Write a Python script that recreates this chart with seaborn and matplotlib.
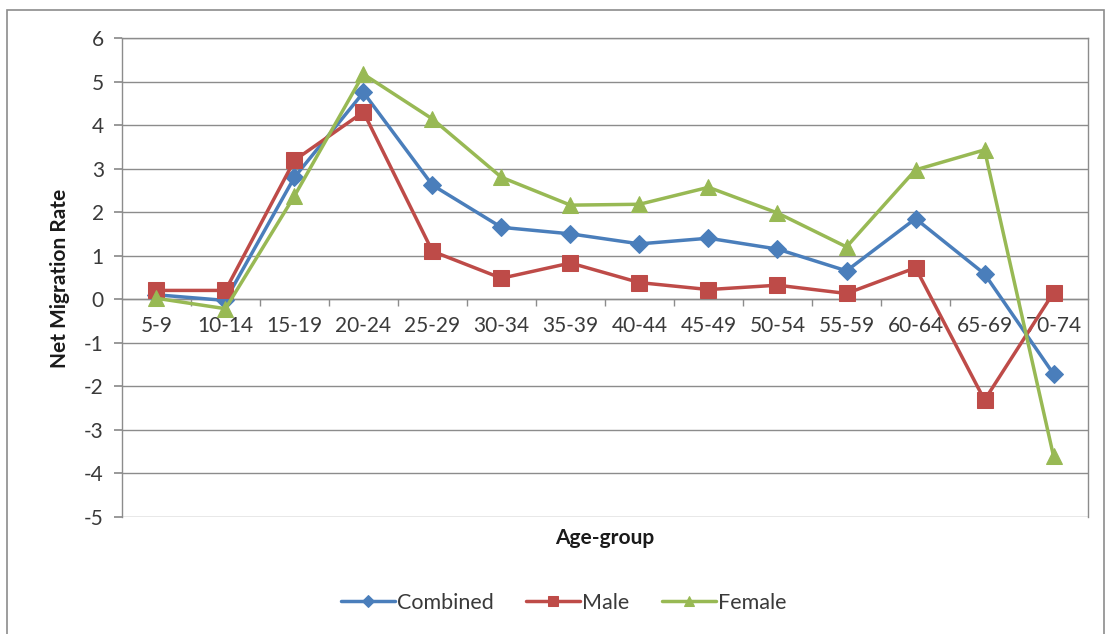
import numpy as np
import pandas as pd
import matplotlib
matplotlib.use("Agg")
import matplotlib.pyplot as plt
import seaborn as sns
from matplotlib.patches import Rectangle
from matplotlib.ticker import FixedLocator

age_groups = ["5-9", "10-14", "15-19", "20-24", "25-29", "30-34", "35-39",
              "40-44", "45-49", "50-54", "55-59", "60-64", "65-69", "70-74"]
combined = [0.10, -0.03, 2.80, 4.75, 2.62, 1.65, 1.50, 1.27, 1.40, 1.15, 0.65, 1.85, 0.58, -1.72]
male = [0.20, 0.20, 3.19, 4.30, 1.10, 0.48, 0.83, 0.38, 0.22, 0.32, 0.13, 0.72, -2.32, 0.15]
female = [0.02, -0.22, 2.37, 5.17, 4.14, 2.80, 2.16, 2.18, 2.57, 1.98, 1.20, 2.97, 3.43, -3.61]

series_names = ["Combined", "Male", "Female"]
series_values = [combined, male, female]
colors = ["#4A7EBB", "#BE4B48", "#98B954"]
markers = ["D", "s", "^"]
marker_sizes = [9.5, 11, 11.5]

sns.set_theme(style="white")
plt.rcParams["font.family"] = ["Lato", "DejaVu Sans"]
plt.rcParams["axes.unicode_minus"] = False

fig = plt.figure(figsize=(11.08, 6.34), dpi=100)
ax = fig.add_axes([0.110, 0.185, 0.872, 0.755])

pos = np.arange(len(age_groups))
for name, vals, c, m, ms in zip(series_names, series_values, colors, markers, marker_sizes):
    df = pd.DataFrame({"pos": pos, "rate": vals})
    sns.lineplot(data=df, x="pos", y="rate", ax=ax, color=c, marker=m,
                 markersize=ms, markeredgecolor=c, linewidth=2.5,
                 sort=False, label=name, zorder=3)

ax.set_xlim(-0.5, len(age_groups) - 0.5)
ax.set_ylim(-5, 6)
ax.set_yticks(range(-5, 7))
ax.yaxis.grid(True, color="#8C8C8C", linewidth=1.0)
ax.xaxis.grid(False)

for s in ["left", "top", "right"]:
    ax.spines[s].set_color("#8C8C8C")
    ax.spines[s].set_linewidth(1.0)
ax.spines["bottom"].set_position(("data", 0))
ax.spines["bottom"].set_color("#8C8C8C")
ax.spines["bottom"].set_linewidth(1.0)

ax.set_xticks(pos)
ax.set_xticklabels(age_groups)
ax.xaxis.set_minor_locator(FixedLocator(pos[:-1] + 0.5))
ax.tick_params(axis="x", which="major", length=0, pad=12, labelsize=15, labelcolor="#3a3a3a")
ax.tick_params(axis="x", which="minor", bottom=True, length=5, color="#8C8C8C", direction="out")
ax.tick_params(axis="y", which="major", left=True, length=6, color="#8C8C8C",
               labelsize=15, labelcolor="#3a3a3a", pad=7)

ax.set_xlabel("")
ax.set_ylabel("")
fig.text(0.546, 1 - 538 / 634, "Age-group", ha="center", va="center",
         fontsize=15, fontweight="bold", color="#1a1a1a")
fig.text(60 / 1108, 1 - 278 / 634, "Net Migration Rate", ha="center", va="center",
         rotation=90, fontsize=15, fontweight="bold", color="#1a1a1a")

handles, labels = ax.get_legend_handles_labels()
if ax.legend_:
    ax.legend_.remove()
leg = fig.legend(handles, labels, loc="center", bbox_to_anchor=(0.509, 1 - 603 / 634),
                 ncol=3, frameon=False, fontsize=15.5, handlelength=2.5,
                 handletextpad=0.1, columnspacing=1.5, markerscale=0.65)
for t in leg.get_texts():
    t.set_color("#3a3a3a")

fig.patches.append(Rectangle((7 / 1108, -0.01), 1097 / 1108, 1 - 10 / 634 + 0.01,
                             transform=fig.transFigure, fill=False,
                             edgecolor="#8C8C8C", linewidth=1.2))

fig.savefig("out.png", dpi=100, facecolor="white")
